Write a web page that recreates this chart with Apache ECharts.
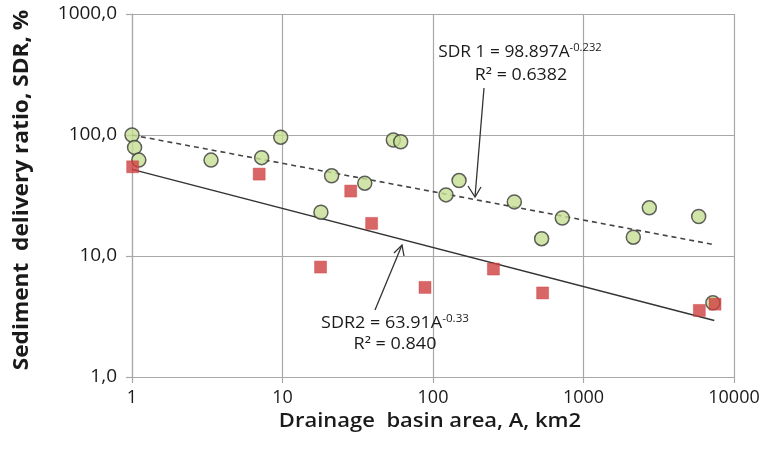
<!DOCTYPE html>
<html>
<head>
<meta charset="utf-8">
<script src="https://cdn.jsdelivr.net/npm/echarts@6/dist/echarts.min.js"></script>
<style>html,body{margin:0;padding:0;background:#fff}#c{width:767px;height:449px}</style>
</head>
<body>
<div id="c"></div>
<script>
// SDR1 data (green circles): [area km2, SDR %]
const sdr1Points = [
  [1, 100], [1.04, 79], [1.11, 62], [3.35, 62], [7.27, 65], [9.73, 96],
  [54.5, 91], [61, 88], [21.2, 46], [35.2, 40], [18, 23],
  [149, 42], [122, 32], [347, 28], [723, 20.6], [527, 13.9],
  [2737, 25], [2143, 14.3], [5826, 21.2], [7240, 4.1]
];
// SDR2 data (red squares)
const sdr2Points = [
  [1.01, 54.6], [7.0, 47.5], [28.4, 34.4], [39.1, 18.6], [17.9, 8.1],
  [88.5, 5.5], [252, 7.8], [535, 4.95], [5885, 3.55], [7480, 4.0]
];
// Trend lines as drawn (end points)
const trend1 = [[1, 100], [7400, 12.4]];
const trend2 = [[1, 52], [7400, 2.93]];
const xTicks = [1, 10, 100, 1000, 10000];
const yTicks = [1, 10, 100, 1000];
const xTitle = 'Drainage  basin area, A, km2';
const yTitle = 'Sediment  delivery ratio, SDR, %';

const FONT = 'Open Sans';
const chart = echarts.init(document.getElementById('c'));
const gridColor = '#a8a8a8';
const richEq = {
  m: { fontFamily: FONT, fontSize: 15.5, fill: '#1a1a1a', lineHeight: 20 },
  s: { fontFamily: FONT, fontSize: 10, fill: '#1a1a1a', verticalAlign: 'top', padding: [0, 0, 10, 0], lineHeight: 20 }
};
chart.setOption({
  animation: false,
  grid: { left: 132, right: 33, top: 14, bottom: 72 },
  xAxis: {
    type: 'log', logBase: 10, min: 1, max: 10000,
    axisLine: { lineStyle: { color: gridColor, width: 1.2 } },
    axisTick: { show: true, length: 6, lineStyle: { color: gridColor, width: 1.2 } },
    axisLabel: { fontFamily: FONT, fontSize: 18, color: '#1a1a1a', margin: 12,
      formatter: v => xTicks.includes(Math.round(v)) ? String(Math.round(v)) : '' },
    splitLine: { show: true, lineStyle: { color: gridColor, width: 1.2 } },
    minorTick: { show: false }
  },
  yAxis: {
    type: 'log', logBase: 10, min: 1, max: 1000,
    axisLine: { show: true, lineStyle: { color: gridColor, width: 1.2 } },
    axisTick: { show: true, length: 6, lineStyle: { color: gridColor, width: 1.2 } },
    axisLabel: { fontFamily: FONT, fontSize: 19, color: '#1a1a1a', margin: 15,
      formatter: v => yTicks.includes(Math.round(v)) ? Math.round(v).toFixed(1).replace('.', ',') : '' },
    splitLine: { show: true, lineStyle: { color: gridColor, width: 1.2 } }
  },
  series: [
    { type: 'line', data: trend1, symbol: 'none', z: 1,
      lineStyle: { color: '#444', width: 1.6, type: [5, 4] } },
    { type: 'line', data: trend2, symbol: 'none', z: 1,
      lineStyle: { color: '#333', width: 1.4 } },
    { type: 'scatter', data: sdr1Points, symbol: 'circle', symbolSize: 14, z: 3,
      itemStyle: { color: '#c6de93', borderColor: '#3a3a3a', borderWidth: 1.5 } },
    { type: 'scatter', data: sdr2Points, symbol: 'rect', symbolSize: 12, z: 4,
      itemStyle: { color: '#d04040', borderColor: '#c83a3a', borderWidth: 0.5 } }
  ],
  graphic: [
    { type: 'text', x: 22, y: 190, rotation: Math.PI / 2, scaleX: 1.08, z: 10,
      style: { text: yTitle, align: 'center', verticalAlign: 'middle', fontFamily: FONT, fontSize: 21, fontWeight: 'bold', fill: '#1a1a1a' } },
    { type: 'text', x: 430, y: 421, scaleX: 1.1, z: 10,
      style: { text: xTitle, align: 'center', verticalAlign: 'middle', fontFamily: FONT, fontSize: 20, fontWeight: 600, fill: '#1a1a1a' } },
    { type: 'text', x: 520, y: 53, scaleX: 1.12, z: 10,
      style: { text: '{m|SDR 1 = 98.897A}{s|-0.232}', align: 'center', verticalAlign: 'middle', rich: richEq } },
    { type: 'text', x: 521, y: 76, scaleX: 1.15, z: 10,
      style: { text: 'R² = 0.6382', align: 'center', verticalAlign: 'middle', fontFamily: FONT, fontSize: 15.5, fill: '#1a1a1a' } },
    { type: 'text', x: 395, y: 324, scaleX: 1.16, z: 10,
      style: { text: '{m|SDR2 = 63.91A}{s|-0.33}', align: 'center', verticalAlign: 'middle', rich: richEq } },
    { type: 'text', x: 395, y: 345, scaleX: 1.16, z: 10,
      style: { text: 'R² = 0.840', align: 'center', verticalAlign: 'middle', fontFamily: FONT, fontSize: 15.5, fill: '#1a1a1a' } },
    { type: 'line', z: 10, shape: { x1: 484, y1: 88, x2: 475, y2: 197 }, style: { stroke: '#333', lineWidth: 1.3 } },
    { type: 'polyline', z: 10, shape: { points: [[468, 186], [475, 197], [481, 187]] }, style: { stroke: '#333', lineWidth: 1.3, fill: null } },
    { type: 'line', z: 10, shape: { x1: 375, y1: 310, x2: 402, y2: 245 }, style: { stroke: '#333', lineWidth: 1.3 } },
    { type: 'polyline', z: 10, shape: { points: [[394, 253], [402, 245], [404, 256]] }, style: { stroke: '#333', lineWidth: 1.3, fill: null } }
  ]
});
</script>
</body>
</html>
